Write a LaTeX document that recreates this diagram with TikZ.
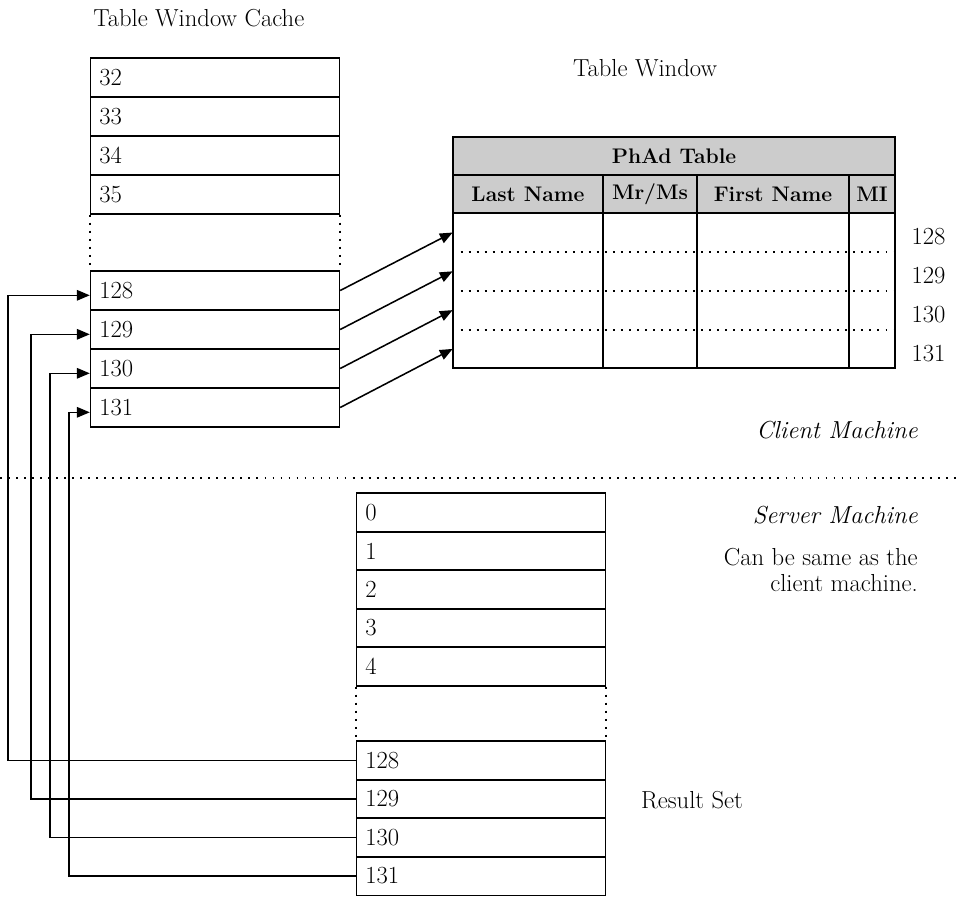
\documentclass[tikz,border=0pt]{standalone}
\usetikzlibrary{arrows.meta,positioning,calc}
\newcommand\lblfont{\fontsize{17.5}{19}\selectfont}
\newcommand\hdrfont{\fontsize{15}{18}\selectfont\bfseries}
\tikzset{
  >={Triangle[length=3.2mm,width=2.6mm]},
  % zellen
  cell/.style={draw,line width=1.1pt,minimum height=0.97cm,inner xsep=0.22cm,
               text width=5.78cm,align=left,font=\lblfont},
  hdr/.style={draw,line width=1.1pt,fill=black!20,minimum height=0.95cm,
              inner sep=0pt,font=\hdrfont},
  colbody/.style={draw,line width=1.1pt,minimum height=3.875cm,inner sep=0pt},
  datarow/.style={minimum width=11.05cm,minimum height=0.97cm,inner sep=0pt},
  % linien
  conn/.style={line width=1.1pt},
  dotline/.style={line width=1.1pt,dash pattern=on 1.3pt off 4.4pt},
  note/.style={font=\lblfont,inner sep=0pt},
}
\begin{document}
\begin{tikzpicture}[x=0.025cm,y=-0.025cm]
\useasboundingbox (0,0) rectangle (959,897);
  % table window cache
  \node[note,anchor=west] (cachetitle) at (93,18) {Table Window Cache};
  \foreach \v [count=\i from 0] in {32,33,34,35}
    \node[cell] (c\v) at (215,{77.5+39*\i}) {\v};
  \foreach \v [count=\i from 0] in {128,129,130,131}
    \node[cell] (c\v) at (215,{290.5+39*\i}) {\v};
  \draw[dotline] (c35.south west) -- (c128.north west);
  \draw[dotline] (c35.south east) -- (c128.north east);
  % table window
  \node[note] (wintitle) at (645,68) {Table Window};
  \node[hdr,minimum width=11.05cm] (phad) at (674,156) {PhAd Table};
  \foreach \name/\xc/\w [count=\i] in {Last Name/528/3.75,{Mr/Ms}/650/2.35,
      First Name/773/3.8,MI/872/1.15} {
    \node[hdr,minimum width=\w cm] (h\i) at (\xc,194) {\name};
    \node[colbody,minimum width=\w cm] (b\i) at (\xc,290.5) {};
  }
  \foreach \v [count=\i from 0] in {128,129,130,131} {
    \node[datarow] (w\v) at (674,{232.5+38.8*\i}) {};
    \node[note,anchor=west] (n\v) at ([xshift=0.4cm,yshift=-0.11cm]w\v.east) {\v};
    \draw[->,conn] (c\v.east) -- (w\v.west);
  }
  \foreach \v in {128,129,130}
    \draw[dotline] (w\v.south west) -- (w\v.south east);
  % trennlinie
  \coordinate (sepL) at (0,478);
  \coordinate (sepR) at (959,478);
  \draw[dotline] (sepL) -- (sepR);
  \node[note,anchor=east] (client) at (918,430) {\itshape Client Machine};
  \node[note,anchor=east] (server) at (918,515) {\itshape Server Machine};
  \node[note,anchor=east,align=right] (same) at (918,570)
    {Can be same as the\\client machine.};
  % result set
  \foreach \v [count=\i from 0] in {0,1,2,3,4}
    \node[cell] (r\v) at (481,{512.5+38.5*\i}) {\v};
  \foreach \v [count=\i from 0] in {128,129,130,131}
    \node[cell] (r\v) at (481,{760.5+38.5*\i}) {\v};
  \draw[dotline] (r4.south west) -- (r128.north west);
  \draw[dotline] (r4.south east) -- (r128.north east);
  \node[note] (resultset) at (692,800) {Result Set};
  % rueckweg
  \foreach \v/\bx in {128/8,129/31,130/50,131/69} {
    \coordinate (bus\v) at (\bx,0);
    \draw[->,conn] (r\v.west) -- (r\v.west -| bus\v) |- ([yshift=-0.12cm]c\v.west);
  }
\end{tikzpicture}
\end{document}
